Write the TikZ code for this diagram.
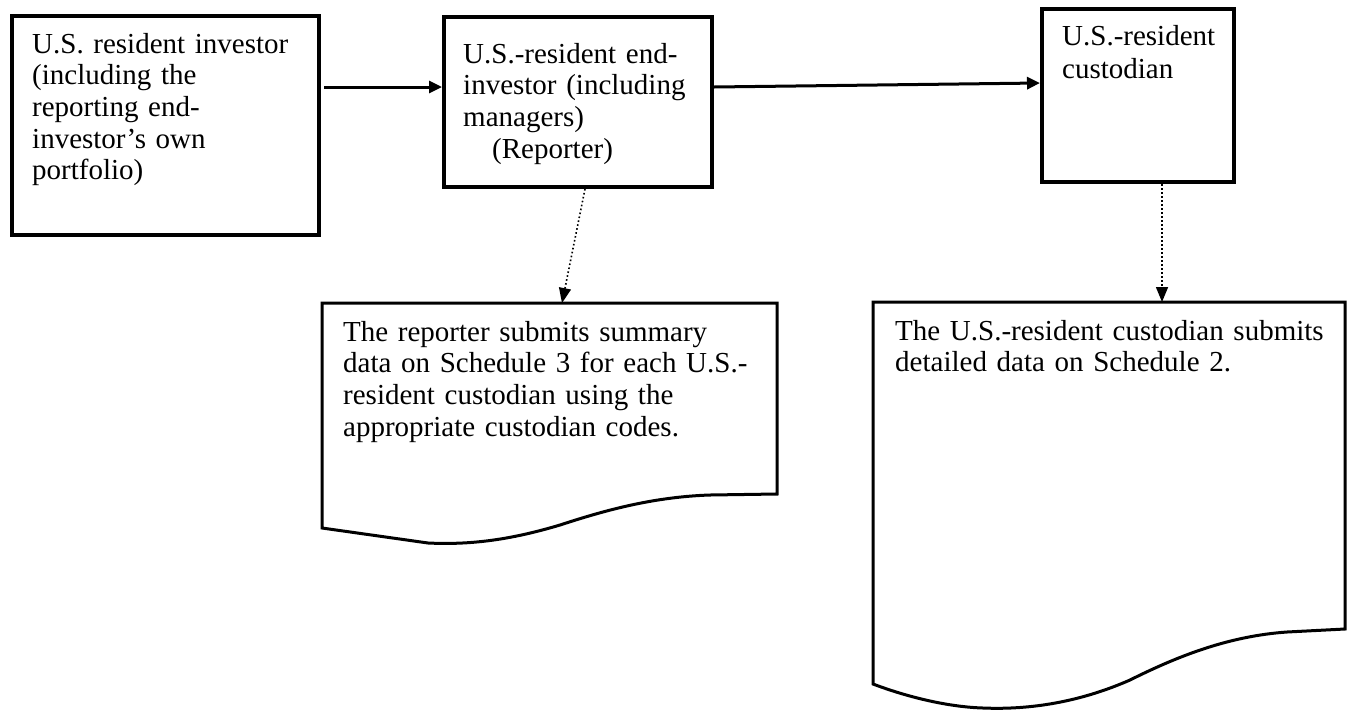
\documentclass[tikz,border=0pt]{standalone}
\usepackage{fontspec}
\setmainfont{Liberation Serif}
\usetikzlibrary{arrows.meta}
\begin{document}
\begin{tikzpicture}[x=1pt,y=-1pt,
  box/.style={draw,line width=4pt,rectangle,inner sep=0pt,anchor=north west},
  docarea/.style={rectangle,inner sep=0pt,anchor=north west},
  docline/.style={line width=3pt,line join=miter},
  txt/.style={anchor=base west,inner sep=0pt,align=left,text width=460pt,font=\fontsize{29}{31.7}\selectfont},
  mainarrow/.style={line width=3pt,-{Triangle[length=13pt,width=12pt]}},
  dotarrow/.style={line width=1.6pt,dash pattern=on 1.6pt off 2.4pt,-{Triangle[length=15pt,width=12pt]}}]
\useasboundingbox[fill=white] (0,0) rectangle (1356,710);

% boxes
\node[box,minimum width=307pt,minimum height=219pt] (b1) at (10,14) {};
\node[box,minimum width=268pt,minimum height=170pt] (b2) at (442,15) {};
\node[box,minimum width=192pt,minimum height=173pt] (b3) at (1040,7) {};

% documents
\node[docarea,minimum width=455pt,minimum height=240pt] (d1) at (322,303) {};
\node[docarea,minimum width=472pt,minimum height=406pt] (d2) at (873,302) {};
\draw[docline] (322,303) -- (777,303) -- (777,494) -- (710,495)
  .. controls (650,497) and (600,512) .. (560,525)
  .. controls (510,540) and (470,545) .. (428,543) -- (322,528) -- cycle;
\draw[docline] (873,302) -- (1345,302) -- (1345,629) -- (1287,632)
  .. controls (1230,636) and (1180,655) .. (1130,680)
  .. controls (1080,702) and (1030,710) .. (983,708)
  .. controls (950,707) and (910,698) .. (873,684) -- cycle;

% texts
\node[txt] (t1) at (32,53) {U.S. resident investor\\(including the\\reporting end-\\investor’s own\\portfolio)};
\node[txt] (t2) at (463,63) {U.S.-resident end-\\investor (including\\managers)\\\hspace*{29pt}(Reporter)};
\node[txt] (t3) at (1062,45) {U.S.-resident\\[1.3pt]custodian};
\node[txt] (t4) at (343,341) {The reporter submits summary\\data on Schedule 3 for each U.S.-\\resident custodian using the\\appropriate custodian codes.};
\node[txt] (t5) at (895,340) {The U.S.-resident custodian submits\\detailed data on Schedule 2.};

% connectors
\coordinate (y1) at (0,87);
\coordinate (y2) at (0,83);
\coordinate (x1) at (585,0);
\coordinate (x2) at (562,0);
\coordinate (x3) at (1162,0);
\draw[mainarrow] ([xshift=3pt]b1.east |- y1) -- (b2.west |- y1);
\draw[mainarrow] (b2.east |- y1) -- (b3.west |- y2);
\draw[dotarrow] (b2.south -| x1) -- (d1.north -| x2);
\draw[dotarrow] (b3.south -| x3) -- (d2.north -| x3);
\end{tikzpicture}
\end{document}
